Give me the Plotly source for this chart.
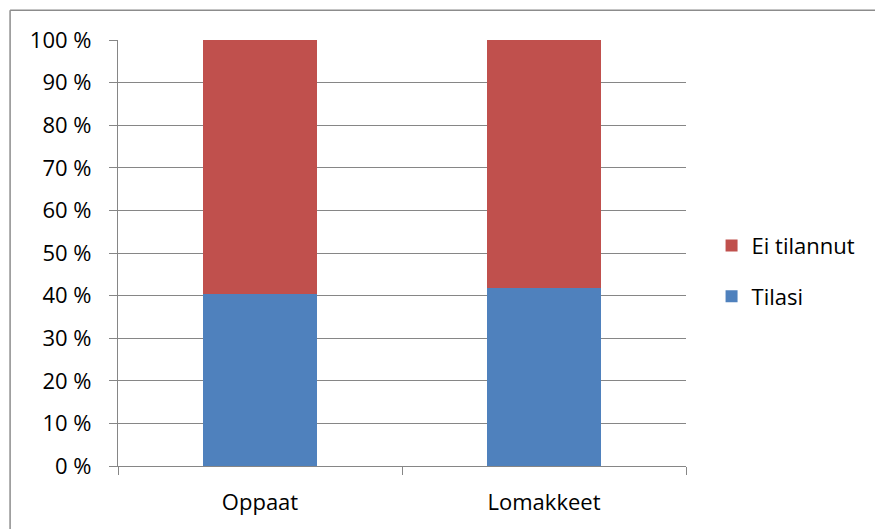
import plotly.graph_objects as go

# Share of respondents per material type
categories = ["Oppaat", "Lomakkeet"]
tilasi = [0.403, 0.418]
ei_tilannut = [0.597, 0.582]

y_tick_vals = [i / 10 for i in range(11)]
y_tick_text = [f"{i * 10} %" for i in range(11)]

BLUE = "#4F81BD"
RED = "#C0504D"
GRID = "#868686"
FONT = "Open Sans, Lato, sans-serif"

fig = go.Figure()
fig.add_trace(go.Bar(
    x=categories, y=tilasi, name="Tilasi",
    marker=dict(color=BLUE, line=dict(width=0)),
    legendgroup="tilasi", legendrank=2,
))
fig.add_trace(go.Bar(
    x=categories, y=ei_tilannut, name="Ei tilannut",
    marker=dict(color=RED, line=dict(width=0)),
    legendgroup="ei", legendrank=1,
))

fig.update_layout(
    width=875, height=529,
    margin=dict(l=118, r=189, t=40, b=63),
    barmode="stack",
    bargap=0.6,
    plot_bgcolor="white",
    paper_bgcolor="white",
    font=dict(family=FONT, size=22, color="black"),
    legend=dict(
        x=1.045, xanchor="left",
        y=0.457, yanchor="middle",
        traceorder="grouped",
        tracegroupgap=19,
        itemwidth=30,
        font=dict(family=FONT, size=22, color="black"),
        bgcolor="rgba(0,0,0,0)",
    ),
    showlegend=True,
)

fig.update_yaxes(
    range=[0, 1],
    tickvals=y_tick_vals,
    ticktext=y_tick_text,
    showgrid=True, gridcolor=GRID, gridwidth=1.3,
    showline=True, linecolor=GRID, linewidth=1.3,
    ticks="outside", ticklen=8, tickcolor=GRID, tickwidth=1.3,
    ticklabelstandoff=13,
    zeroline=False,
    fixedrange=True,
)
fig.update_xaxes(
    showline=True, linecolor=GRID, linewidth=1.3,
    ticks="outside", ticklen=8, tickcolor=GRID, tickwidth=1.3,
    tickson="boundaries",
    ticklabelstandoff=16,
    showgrid=False,
    fixedrange=True,
)

# Chart-area frame (left and top edges)
frame = dict(color="#8C8C8C", width=1.5)
fig.add_shape(type="line", xref="paper", yref="paper",
              x0=-0.19, x1=-0.19, y0=1.07, y1=-0.3, line=frame)
fig.add_shape(type="line", xref="paper", yref="paper",
              x0=-0.19, x1=1.5, y0=1.07, y1=1.07, line=frame)

fig.write_html("out.html")
